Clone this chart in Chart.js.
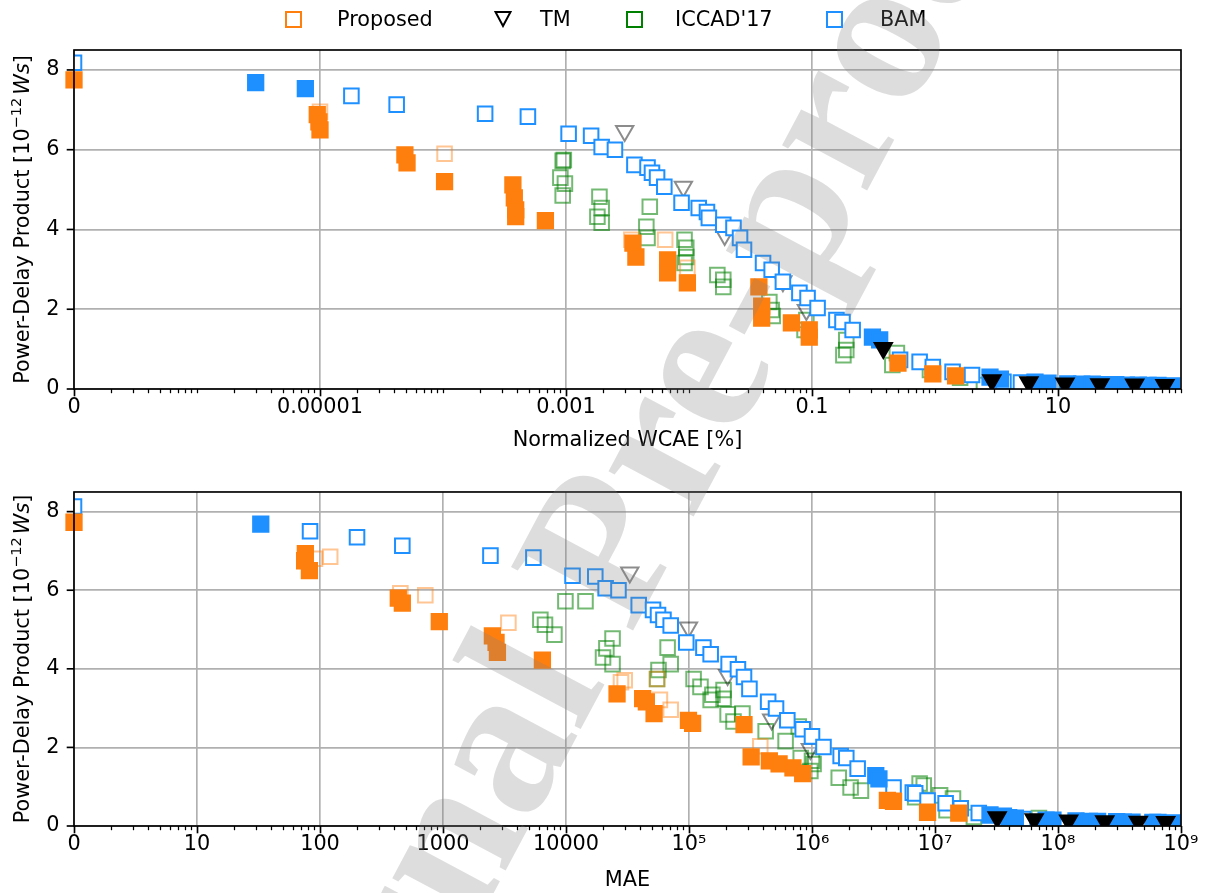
<!DOCTYPE html>
<html>
<head>
<meta charset="utf-8">
<title>PDP vs error</title>
<script src="https://cdn.jsdelivr.net/npm/chart.js@4.4.0/dist/chart.umd.min.js"></script>
<style>
  body { margin: 0; background: #fff; }
  #wrap { position: relative; width: 1207px; height: 893px; overflow: hidden; background: #fff; }
  canvas { position: absolute; left: 0; }
  .lg-icon { position: absolute; top: 11px; width: 13px; height: 13px; border: 2px solid; }
  .lg-text { position: absolute; top: 6px; font: 20.8px "DejaVu Sans"; line-height: 26px; color: #000; white-space: nowrap; }
  #watermark {
    position: absolute; left: 595px; top: 551px; z-index: 10; pointer-events: none;
    transform: translate(-50%, -50%) rotate(-62deg);
    font: bold 210px "Liberation Serif"; line-height: 1; white-space: nowrap;
    color: rgba(128, 128, 128, 0.27);
  }
</style>
</head>
<body>
<div id="wrap">
  <canvas id="wcae-chart" width="1207" height="465" style="top:0"></canvas>
  <canvas id="mae-chart" width="1207" height="428" style="top:465px"></canvas>

  <span class="lg-icon" style="left:285px;border-color:#ff7f0e"></span>
  <span class="lg-text" style="left:337px">Proposed</span>
  <svg style="position:absolute;left:494px;top:10px" width="18" height="18">
    <polygon points="1.5,2 16.5,2 9,16" fill="none" stroke="#000" stroke-width="2"/>
  </svg>
  <span class="lg-text" style="left:540px">TM</span>
  <span class="lg-icon" style="left:626px;border-color:#008000"></span>
  <span class="lg-text" style="left:675px">ICCAD'17</span>
  <span class="lg-icon" style="left:826px;border-color:#1e90ff"></span>
  <span class="lg-text" style="left:880px">BAM</span>

  <div id="watermark">Journal Pre-proof</div>
</div>

<script>
// ---- données (PDP en 1e-12 Ws) ----

// panneau du haut : WCAE normalisée [%]
const wcaeProposedX = [0, 9.5e-6, 9.8e-6, 1.0e-5, 4.9e-5, 5.1e-5, 1.03e-4, 3.7e-4, 3.8e-4, 3.9e-4, 3.9e-4, 6.8e-4, 3.5e-3, 3.7e-3, 6.7e-3, 6.7e-3, 9.7e-3, 3.7e-2, 3.9e-2, 3.9e-2, 6.8e-2, 9.5e-2, 9.5e-2, 0.50, 0.96, 1.47];
const wcaeProposedY = [7.75, 6.88, 6.70, 6.50, 5.87, 5.67, 5.20, 5.12, 4.79, 4.49, 4.32, 4.22, 3.66, 3.31, 3.24, 2.91, 2.66, 2.56, 2.08, 1.78, 1.66, 1.48, 1.30, 0.65, 0.38, 0.33];
const wcaeProposedOtherX = [1.0e-5, 1.03e-4, 3.4e-3, 6.4e-3, 9.7e-3];
const wcaeProposedOtherY = [6.95, 5.90, 3.74, 3.74, 3.04];

const wcaeTmX = [0.38, 2.9, 5.8, 11.4, 21.9, 42, 74];
const wcaeTmY = [1.03, 0.22, 0.17, 0.14, 0.12, 0.11, 0.10];
const wcaeTmOtherX = [3.0e-3, 9.0e-3, 1.95e-2, 5.8e-2, 9.0e-2];
const wcaeTmOtherY = [6.47, 5.07, 3.86, 2.70, 1.98];

const wcaeIccadX = [9.4e-4, 9.6e-4, 9.0e-4, 9.8e-4, 9.4e-4, 1.87e-3, 1.95e-3, 1.8e-3, 1.95e-3, 4.8e-3, 4.5e-3, 4.6e-3, 9.2e-3, 9.5e-3, 9.5e-3, 9.2e-3, 1.7e-2, 1.9e-2, 1.9e-2, 4.5e-2, 4.7e-2, 4.8e-2, 9.0e-2, 8.7e-2, 0.19, 0.19, 0.18, 0.49, 0.45, 0.91, 1.6, 2.5, 9];
const wcaeIccadY = [5.72, 5.74, 5.30, 5.15, 4.85, 4.82, 4.54, 4.32, 4.17, 4.57, 4.07, 3.79, 3.74, 3.54, 3.31, 3.16, 2.86, 2.74, 2.56, 2.18, 1.98, 1.83, 1.73, 1.48, 1.23, 0.98, 0.85, 0.90, 0.60, 0.48, 0.28, 0.10, 0.07];

const wcaeBamX = [0, 1.8e-5, 4.2e-5, 2.2e-4, 4.9e-4, 1.05e-3, 1.6e-3, 1.95e-3, 2.5e-3, 3.6e-3, 4.6e-3, 5.0e-3, 5.5e-3, 6.3e-3, 8.7e-3, 1.2e-2, 1.4e-2, 1.45e-2, 1.9e-2, 2.3e-2, 2.6e-2, 2.8e-2, 4.0e-2, 4.7e-2, 5.8e-2, 7.9e-2, 9.2e-2, 0.111, 0.158, 0.177, 0.214, 0.52, 0.75, 0.96, 1.39, 2.0, 3.6, 5.0];
const wcaeBamY = [8.18, 7.35, 7.13, 6.90, 6.83, 6.40, 6.35, 6.07, 6.00, 5.62, 5.55, 5.42, 5.30, 5.07, 4.67, 4.54, 4.44, 4.29, 4.12, 4.04, 3.79, 3.49, 3.16, 2.99, 2.69, 2.41, 2.28, 2.03, 1.73, 1.68, 1.48, 0.73, 0.68, 0.55, 0.43, 0.35, 0.18, 0.16];
const wcaeBamFillX = [3.0e-6, 7.6e-6, 0.31, 0.355, 2.8, 3.4, 6.5, 8.3, 12, 15.6, 19, 25, 29.5, 36, 45, 54, 65, 84];
const wcaeBamFillY = [7.68, 7.53, 1.30, 1.23, 0.30, 0.25, 0.17, 0.15, 0.13, 0.12, 0.12, 0.11, 0.11, 0.10, 0.10, 0.09, 0.09, 0.08];

// panneau du bas : MAE
const maeProposedX = [0, 76, 75, 82, 433, 467, 933, 2520, 2700, 2770, 6430, 2.6e4, 4.2e4, 4.5e4, 5.2e4, 9.9e4, 1.07e5, 2.8e5, 3.2e5, 4.5e5, 5.4e5, 7.0e5, 8.4e5, 4.1e6, 4.6e6, 8.7e6, 1.56e7];
const maeProposedY = [7.73, 6.93, 6.75, 6.50, 5.80, 5.67, 5.20, 4.84, 4.67, 4.42, 4.22, 3.36, 3.24, 3.16, 2.86, 2.69, 2.61, 2.58, 1.76, 1.66, 1.58, 1.48, 1.33, 0.65, 0.63, 0.35, 0.33];
const maeProposedOtherX = [91, 121, 450, 718, 3400, 3.0e4, 2.8e4, 5.5e4, 5.8e4, 7.1e4, 3.8e5];
const maeProposedOtherY = [6.80, 6.85, 5.92, 5.87, 5.17, 3.71, 3.66, 3.74, 3.21, 2.96, 2.03];

const maeTmX = [3.2e7, 6.4e7, 1.22e8, 2.4e8, 4.5e8, 7.5e8];
const maeTmY = [0.22, 0.17, 0.14, 0.12, 0.11, 0.10];
const maeTmOtherX = [3.3e4, 9.9e4, 2.06e5, 4.7e5, 9.7e5];
const maeTmOtherY = [6.45, 5.05, 3.84, 2.71, 1.96];

const maeIccadX = [6190, 6750, 8050, 9890, 1.44e4, 2.39e4, 2.13e4, 2.0e4, 2.39e4, 6.7e4, 7.1e4, 5.65e4, 5.5e4, 1.09e5, 1.24e5, 1.5e5, 1.91e5, 1.91e5, 2.72e5, 2.3e5, 1.55e5, 2.06e5, 4.2e5, 6.1e5, 8.1e5, 1.03e6, 1.65e6, 2.06e6, 2.5e6, 7.5e6, 6.9e6, 1.24e7, 2.07e7, 7e7, 7.8e5, 1.0e6, 9.7e5, 8.1e6, 1.1e7, 1.4e7];
const maeIccadY = [5.25, 5.12, 4.87, 5.72, 5.72, 4.77, 4.52, 4.29, 4.12, 4.54, 4.12, 3.97, 3.74, 3.74, 3.54, 3.21, 3.46, 3.24, 2.86, 2.66, 3.34, 2.84, 2.41, 2.16, 1.73, 1.58, 1.23, 0.98, 0.90, 1.08, 0.73, 0.40, 0.23, 0.20, 2.53, 1.66, 1.40, 1.03, 0.78, 0.70];

const maeBamX = [0, 83, 200, 467, 2430, 5430, 1.13e4, 1.73e4, 2.1e4, 2.67e4, 3.9e4, 5.1e4, 5.6e4, 6.2e4, 7.1e4, 9.5e4, 1.31e5, 1.5e5, 2.1e5, 2.5e5, 2.8e5, 3.1e5, 4.4e5, 5.1e5, 6.3e5, 8.4e5, 1.0e6, 1.24e6, 1.71e6, 1.9e6, 2.35e6, 4.6e6, 6.6e6, 6.9e6, 8.7e6, 1.22e7, 1.62e7, 2.27e7, 4e7, 5.2e7];
const maeBamY = [8.13, 7.50, 7.35, 7.13, 6.88, 6.83, 6.37, 6.35, 6.05, 6.00, 5.62, 5.50, 5.37, 5.25, 5.10, 4.67, 4.54, 4.37, 4.12, 3.99, 3.79, 3.49, 3.16, 2.99, 2.69, 2.46, 2.28, 2.01, 1.78, 1.73, 1.46, 0.98, 0.85, 0.83, 0.65, 0.58, 0.45, 0.33, 0.22, 0.18];
const maeBamFillX = [33, 3.3e6, 3.5e6, 2.8e7, 3.6e7, 4.5e7, 8e7, 9.1e7, 1.4e8, 1.8e8, 2.1e8, 3e8, 3.4e8, 4e8, 5.9e8, 6.5e8, 8.6e8];
const maeBamFillY = [7.68, 1.28, 1.20, 0.28, 0.25, 0.20, 0.15, 0.15, 0.13, 0.12, 0.12, 0.11, 0.10, 0.10, 0.09, 0.09, 0.08];

// graduations
const wcaeTickValues = [1e-7, 1e-5, 1e-3, 1e-1, 10];
const wcaeTickLabels = ['0', '0.00001', '0.001', '0.1', '10'];
const maeTickValues = [1, 10, 100, 1e3, 1e4, 1e5, 1e6, 1e7, 1e8, 1e9];
const maeTickLabels = ['0', '10', '100', '1000', '10000', '10⁵', '10⁶', '10⁷', '10⁸', '10⁹'];
const pdpTicks = [0, 2, 4, 6, 8];

const FONT = 'DejaVu Sans';
const FS = 20.8;
const GRID = '#b0b0b0';
const ORANGE = '#ff7f0e';
const BLUE = '#1e90ff';

Chart.defaults.font.family = FONT;
Chart.defaults.color = '#000';

// 0 se place sur le bord gauche de l'axe (comme sur la figure)
function pts(xs, ys, xmin) {
    return xs.map((x, i) => ({ x: x === 0 ? xmin : x, y: ys[i] }));
}

// majeures + mineures (2..9 et décades sautées)
function logTicks(majors, labels, loExp, hiExp) {
    const ticks = [];
    for (let k = loExp; k < hiExp; k++) {
        for (let j = 1; j < 10; j++) {
            const v = j * Math.pow(10, k);
            const mi = majors.findIndex(m => Math.abs(m - v) / m < 1e-9);
            if (mi >= 0) ticks.push({ value: majors[mi], major: true, lbl: labels[mi] });
            else ticks.push({ value: v, major: false, lbl: '' });
        }
    }
    const top = Math.pow(10, hiExp);
    const mi = majors.findIndex(m => Math.abs(m - top) / m < 1e-9);
    ticks.push(mi >= 0 ? { value: top, major: true, lbl: labels[mi] } : { value: top, major: false, lbl: '' });
    return ticks;
}

function markerSet(label, data, style) {
    return Object.assign({
        label: label,
        data: data,
        showLine: false,
        clip: 0,
        pointStyle: 'rect',
        pointRadius: 10.3,
        pointHoverRadius: 10.3,
        pointBorderWidth: 2,
        pointRotation: 0
    }, style);
}

function buildDatasets(d, xmin) {
    const clear = 'rgba(0,0,0,0)';
    return [
        markerSet('TM', pts(d.tmX, d.tmY, xmin), {
            pointStyle: 'triangle', pointRotation: 180, pointRadius: 10, pointHoverRadius: 10,
            pointBackgroundColor: '#000', pointBorderColor: '#000'
        }),
        markerSet('Proposed', pts(d.propX, d.propY, xmin), {
            clip: false, pointRadius: 10.8, pointHoverRadius: 10.8,
            pointBackgroundColor: ORANGE, pointBorderColor: ORANGE
        }),
        markerSet('Proposed (autres)', pts(d.propOX, d.propOY, xmin), {
            pointBackgroundColor: clear, pointBorderColor: 'rgba(255,127,14,0.45)'
        }),
        markerSet('BAM (pleins)', pts(d.bamFX, d.bamFY, xmin), {
            pointRadius: 10.8, pointHoverRadius: 10.8,
            pointBackgroundColor: BLUE, pointBorderColor: BLUE
        }),
        markerSet('BAM', pts(d.bamX, d.bamY, xmin), {
            pointBackgroundColor: '#fff', pointBorderColor: BLUE
        }),
        markerSet('TM (autres)', pts(d.tmOX, d.tmOY, xmin), {
            pointStyle: 'triangle', pointRotation: 180, pointRadius: 10, pointHoverRadius: 10,
            pointBackgroundColor: clear, pointBorderColor: 'rgba(0,0,0,0.45)'
        }),
        markerSet("ICCAD'17", pts(d.iccX, d.iccY, xmin), {
            pointBackgroundColor: clear, pointBorderColor: 'rgba(0,128,0,0.55)'
        })
    ];
}

// petites graduations + cadre noir + titre de l'axe y (exposant, Ws en italique)
const axesDecor = {
    id: 'axesDecor',
    afterDraw(chart) {
        const ctx = chart.ctx;
        const a = chart.chartArea;
        const xs = chart.scales.x;
        const ys = chart.scales.y;
        ctx.save();
        ctx.strokeStyle = '#000';
        xs.ticks.forEach((t, i) => {
            const px = Math.round(xs.getPixelForTick(i)) + 0.5;
            ctx.lineWidth = t.major ? 1.67 : 1.25;
            ctx.beginPath();
            ctx.moveTo(px, a.bottom);
            ctx.lineTo(px, a.bottom + (t.major ? 7.3 : 4.2));
            ctx.stroke();
        });
        ctx.lineWidth = 1.67;
        ys.ticks.forEach((t, i) => {
            const py = ys.getPixelForTick(i);
            ctx.beginPath();
            ctx.moveTo(a.left, py);
            ctx.lineTo(a.left - 7.3, py);
            ctx.stroke();
        });
        ctx.strokeRect(a.left, a.top, a.right - a.left, a.bottom - a.top);

        // titre y
        const parts = [
            { t: 'Power-Delay Product [10', f: FS + 'px "' + FONT + '"', dy: 0 },
            { t: '−12', f: (FS * 0.7) + 'px "' + FONT + '"', dy: -8 },
            { t: 'Ws', f: 'italic ' + FS + 'px "' + FONT + '"', dy: 0 },
            { t: ']', f: FS + 'px "' + FONT + '"', dy: 0 }
        ];
        let total = 0;
        parts.forEach(p => { ctx.font = p.f; p.w = ctx.measureText(p.t).width; total += p.w; });
        total += 3;
        ctx.translate(21, (a.top + a.bottom) / 2);
        ctx.rotate(-Math.PI / 2);
        ctx.fillStyle = '#000';
        ctx.textBaseline = 'alphabetic';
        ctx.textAlign = 'left';
        let x = -total / 2;
        parts.forEach((p, i) => {
            ctx.font = p.f;
            ctx.fillText(p.t, x, 7.5 + p.dy);
            x += p.w + (i === 1 ? 3 : 0);
        });
        ctx.restore();
    }
};

function makeChart(canvasId, d, opt) {
    return new Chart(document.getElementById(canvasId), {
        type: 'scatter',
        data: { datasets: buildDatasets(d, opt.xmin) },
        options: {
            responsive: false,
            animation: false,
            events: [],
            layout: { padding: opt.padding },
            plugins: { legend: { display: false }, tooltip: { enabled: false } },
            scales: {
                x: {
                    type: 'logarithmic',
                    min: opt.xmin,
                    max: opt.xmax,
                    afterBuildTicks: s => { s.ticks = opt.ticks; },
                    afterFit: s => { s.height = opt.xHeight; },
                    border: { display: false },
                    grid: {
                        drawTicks: false,
                        lineWidth: 1.67,
                        color: c => (c.tick && c.tick.major) ? GRID : 'rgba(0,0,0,0)'
                    },
                    ticks: {
                        autoSkip: false,
                        maxRotation: 0,
                        padding: 6,
                        color: '#000',
                        font: { size: FS },
                        callback: (v, i, t) => t[i].lbl || ''
                    },
                    title: {
                        display: true,
                        text: opt.xTitle,
                        color: '#000',
                        font: { size: FS },
                        padding: { top: 0, bottom: opt.xTitlePad }
                    }
                },
                y: {
                    type: 'linear',
                    min: 0,
                    max: 8.5,
                    afterBuildTicks: s => { s.ticks = pdpTicks.map(v => ({ value: v, major: true })); },
                    afterFit: s => { s.width = 74; },
                    border: { display: false },
                    grid: { drawTicks: false, lineWidth: 1.67, color: GRID },
                    ticks: {
                        padding: 14.5,
                        color: '#000',
                        font: { size: FS },
                        callback: v => String(v)
                    },
                    title: { display: false }
                }
            }
        },
        plugins: [axesDecor]
    });
}

makeChart('wcae-chart', {
    propX: wcaeProposedX, propY: wcaeProposedY, propOX: wcaeProposedOtherX, propOY: wcaeProposedOtherY,
    tmX: wcaeTmX, tmY: wcaeTmY, tmOX: wcaeTmOtherX, tmOY: wcaeTmOtherY,
    iccX: wcaeIccadX, iccY: wcaeIccadY,
    bamX: wcaeBamX, bamY: wcaeBamY, bamFX: wcaeBamFillX, bamFY: wcaeBamFillY
}, {
    xmin: 1e-7, xmax: 100,
    ticks: logTicks(wcaeTickValues, wcaeTickLabels, -7, 2),
    xTitle: 'Normalized WCAE [%]',
    padding: { top: 50, right: 26, bottom: 6, left: 0 },
    xHeight: 70, xTitlePad: 6
});

makeChart('mae-chart', {
    propX: maeProposedX, propY: maeProposedY, propOX: maeProposedOtherX, propOY: maeProposedOtherY,
    tmX: maeTmX, tmY: maeTmY, tmOX: maeTmOtherX, tmOY: maeTmOtherY,
    iccX: maeIccadX, iccY: maeIccadY,
    bamX: maeBamX, bamY: maeBamY, bamFX: maeBamFillX, bamFY: maeBamFillY
}, {
    xmin: 1, xmax: 1e9,
    ticks: logTicks(maeTickValues, maeTickLabels, 0, 9),
    xTitle: 'MAE',
    padding: { top: 22, right: 26, bottom: 0, left: 0 },
    xHeight: 67, xTitlePad: 0
});
</script>
</body>
</html>
